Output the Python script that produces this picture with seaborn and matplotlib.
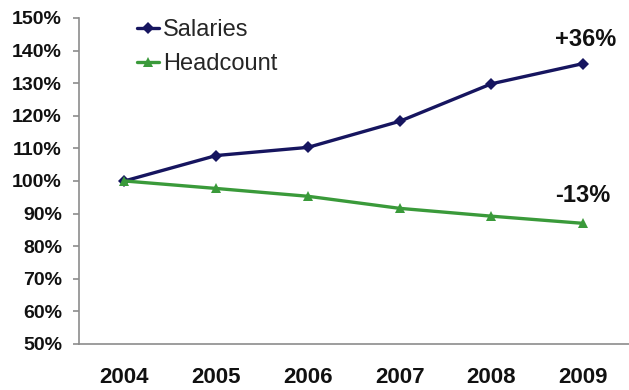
import matplotlib
matplotlib.use("Agg")
import matplotlib.pyplot as plt
import seaborn as sns
import pandas as pd
from matplotlib.ticker import FuncFormatter

years = ["2004", "2005", "2006", "2007", "2008", "2009"]
salaries = [100.0, 107.8, 110.3, 118.3, 129.8, 136.0]
headcount = [100.0, 97.7, 95.3, 91.6, 89.2, 87.0]
series_names = ["Salaries", "Headcount"]
end_labels = ["+36%", "-13%"]

df = pd.DataFrame({
    "Year": years * 2,
    "Value": salaries + headcount,
    "Series": [series_names[0]] * len(years) + [series_names[1]] * len(years),
})

sns.set_theme(style="white")
plt.rcParams["font.family"] = ["Liberation Sans", "DejaVu Sans"]

fig = plt.figure(figsize=(6.29, 3.90), dpi=100)
ax = fig.add_axes([0.125, 0.118, 0.875, 0.836])

palette = {"Salaries": "#16155f", "Headcount": "#3a9a3a"}
markers = {"Salaries": "D", "Headcount": "^"}
sns.lineplot(data=df, x="Year", y="Value", hue="Series", style="Series",
             palette=palette, markers=markers, dashes=False, linewidth=2.4,
             markersize=6.3, markeredgewidth=0, ax=ax)

# Triangles read a little small next to the diamonds; enlarge them
for line in ax.lines:
    if line.get_marker() == "^":
        line.set_markersize(7.6)

ax.set_xlim(-0.5, len(years) - 0.5)
ax.set_ylim(50, 150)
ax.set_yticks(range(50, 151, 10))
ax.yaxis.set_major_formatter(FuncFormatter(lambda v, p: f"{v:.0f}%"))
ax.set_xlabel("")
ax.set_ylabel("")

for side in ["top", "right"]:
    ax.spines[side].set_visible(False)
for side in ["left", "bottom"]:
    ax.spines[side].set_color("#8c8c8c")
    ax.spines[side].set_linewidth(1.2)

ax.tick_params(axis="y", which="major", left=True, length=4.5, width=1.2,
               color="#8c8c8c", labelsize=14, pad=7.5)
ax.tick_params(axis="x", which="major", bottom=False, length=0,
               labelsize=16, pad=16.5)
for lbl in ax.get_yticklabels() + ax.get_xticklabels():
    lbl.set_fontweight("bold")
    lbl.set_color("#111111")

# End-of-period change labels
ax.text(5.03, 143.3, end_labels[0], ha="center", va="center",
        fontsize=17, fontweight="bold", color="#111111")
ax.text(5.0, 95.6, end_labels[1], ha="center", va="center",
        fontsize=17, fontweight="bold", color="#111111")

leg = ax.legend(loc="upper left", bbox_to_anchor=(137 / 629, 1 - 19 / 390),
                bbox_transform=fig.transFigure, frameon=False,
                fontsize=17, handlelength=0.95, handletextpad=0.15,
                labelspacing=0.52, borderaxespad=0, borderpad=0)
for h in leg.legend_handles:
    if hasattr(h, "get_marker") and h.get_marker() == "^":
        h.set_markersize(7.6)

fig.savefig("out.png", dpi=100)
